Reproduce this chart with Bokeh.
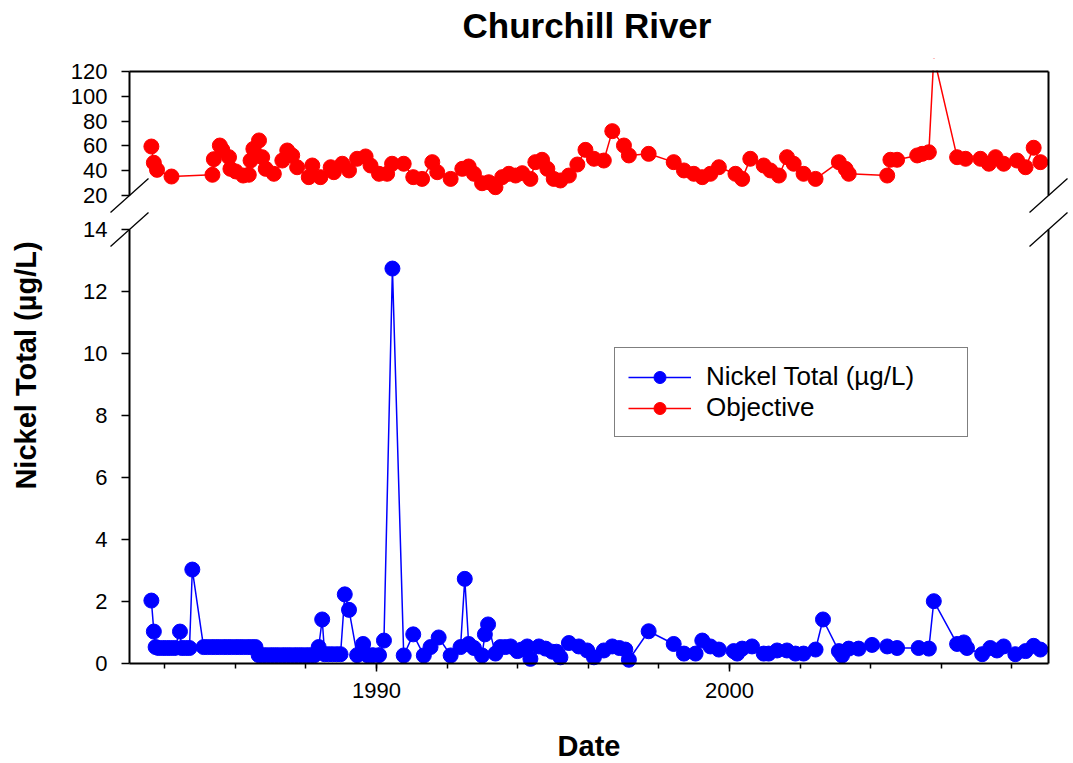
import math
from bokeh.plotting import figure
from bokeh.models import (Range1d, LinearAxis, FixedTicker, Label, Legend, LegendItem,
                          ColumnDataSource, Title, CDSView, BooleanFilter)
from bokeh.embed import file_html
from bokeh.resources import INLINE

# ---------------- data ----------------
nickel_dates = [
    1983.62, 1983.69, 1983.74, 1983.82, 1983.94, 1984.05, 1984.16, 1984.28, 1984.43, 1984.48,
    1984.59, 1984.70, 1984.78,
    1985.10, 1985.21, 1985.33, 1985.44, 1985.55, 1985.67, 1985.78, 1985.89, 1986.01, 1986.12,
    1986.23, 1986.35, 1986.46, 1986.57,
    1986.66, 1986.77, 1986.88, 1987.00, 1987.11, 1987.22, 1987.34, 1987.45, 1987.56, 1987.68,
    1987.79, 1987.90, 1988.02, 1988.13, 1988.24,
    1988.36, 1988.46, 1988.53, 1988.64, 1988.75, 1988.87, 1988.98, 1989.10, 1989.22, 1989.45,
    1989.62, 1989.74, 1989.89, 1990.07, 1990.21, 1990.45, 1990.77, 1991.04, 1991.34, 1991.53,
    1991.76, 1992.10, 1992.38, 1992.50, 1992.61, 1992.76, 1992.99, 1993.07, 1993.16, 1993.37,
    1993.51, 1993.65, 1993.80, 1993.99, 1994.11, 1994.27, 1994.36, 1994.60, 1994.79, 1994.98,
    1995.10, 1995.21, 1995.45, 1995.73, 1995.97, 1996.16, 1996.44, 1996.68, 1996.88, 1997.05,
    1997.15, 1997.71, 1998.42, 1998.71, 1999.04, 1999.23, 1999.46, 1999.70, 2000.12, 2000.22,
    2000.36, 2000.64, 2000.97, 2001.11, 2001.35, 2001.63, 2001.87, 2002.10, 2002.44, 2002.65,
    2003.10, 2003.19, 2003.38, 2003.66, 2004.04, 2004.47, 2004.75, 2005.36, 2005.65, 2005.79,
    2006.45, 2006.64, 2006.73, 2007.16, 2007.39, 2007.58, 2007.77, 2008.10, 2008.39, 2008.62,
    2008.81,
]
nickel_values = [
    2.03, 1.03, 0.53, 0.50, 0.50, 0.50, 0.50, 0.50, 1.03, 0.50,
    0.50, 0.50, 3.03,
    0.53, 0.53, 0.53, 0.53, 0.53, 0.53, 0.53, 0.53, 0.53, 0.53,
    0.53, 0.53, 0.53, 0.53,
    0.27, 0.27, 0.27, 0.27, 0.27, 0.27, 0.27, 0.27, 0.27, 0.27,
    0.27, 0.27, 0.27, 0.27, 0.27,
    0.53, 1.42, 0.30, 0.30, 0.30, 0.30, 0.30, 2.23, 1.73, 0.27,
    0.63, 0.27, 0.27, 0.27, 0.74, 12.74, 0.26, 0.94, 0.26, 0.53,
    0.84, 0.26, 0.53, 2.73, 0.63, 0.50, 0.26, 0.94, 1.26, 0.32,
    0.53, 0.53, 0.55, 0.40, 0.45, 0.55, 0.15, 0.55, 0.48, 0.38,
    0.38, 0.20, 0.66, 0.55, 0.42, 0.20, 0.42, 0.55, 0.50, 0.45,
    0.12, 1.04, 0.63, 0.32, 0.32, 0.74, 0.55, 0.45, 0.40, 0.32,
    0.48, 0.55, 0.32, 0.32, 0.42, 0.42, 0.32, 0.32, 0.45, 1.42,
    0.40, 0.26, 0.48, 0.48, 0.60, 0.55, 0.50, 0.50, 0.48, 2.01,
    0.63, 0.68, 0.50, 0.30, 0.50, 0.42, 0.55, 0.30, 0.40, 0.57,
    0.45,
]

objective_dates = [
    1983.62, 1983.69, 1983.78, 1984.19, 1985.35, 1985.39, 1985.56, 1985.63, 1985.82, 1985.86,
    1986.01, 1986.22, 1986.38, 1986.43, 1986.51, 1986.67, 1986.76, 1986.86, 1987.09, 1987.33,
    1987.47, 1987.61, 1987.75, 1988.08, 1988.18, 1988.41, 1988.70, 1988.79, 1989.03, 1989.22,
    1989.45, 1989.69, 1989.83, 1990.07, 1990.30, 1990.44, 1990.77, 1991.04, 1991.29, 1991.58,
    1991.72, 1992.10, 1992.43, 1992.61, 1992.76, 1992.99, 1993.18, 1993.37, 1993.56, 1993.75,
    1993.94, 1994.13, 1994.36, 1994.50, 1994.69, 1994.84, 1995.02, 1995.21, 1995.45, 1995.69,
    1995.92, 1996.16, 1996.44, 1996.68, 1997.01, 1997.15, 1997.71, 1998.42, 1998.71, 1998.99,
    1999.23, 1999.46, 1999.70, 2000.17, 2000.36, 2000.59, 2000.97, 2001.16, 2001.40, 2001.63,
    2001.82, 2002.10, 2002.44, 2003.10, 2003.29, 2003.38, 2004.47, 2004.56, 2004.75, 2005.32,
    2005.46, 2005.65, 2005.79, 2006.45, 2006.69, 2007.11, 2007.35, 2007.54, 2007.77, 2008.15,
    2008.39, 2008.62, 2008.81,
]
objective_values = [
    59.5, 46.4, 40.7, 35.3, 36.7, 49.3, 60.3, 56.8, 50.9, 41.5,
    39.4, 36.1, 36.7, 48.2, 57.6, 64.4, 50.9, 41.5, 37.5, 48.2,
    56.3, 52.3, 42.8, 34.8, 44.2, 34.8, 42.8, 38.8, 45.6, 40.2,
    49.6, 51.5, 44.2, 37.5, 37.5, 45.6, 45.6, 34.8, 33.4, 46.9,
    38.8, 33.4, 41.5, 43.4, 37.5, 29.9, 30.7, 26.7, 34.8, 37.5,
    36.1, 38.0, 33.4, 46.9, 48.8, 41.5, 33.4, 32.1, 36.1, 45.0,
    56.8, 49.6, 48.2, 71.9, 60.3, 52.3, 53.6, 46.9, 40.2, 37.5,
    34.8, 37.5, 42.8, 37.5, 33.4, 49.6, 44.2, 40.2, 36.1, 50.9,
    45.6, 37.5, 33.4, 46.9, 41.5, 37.5, 36.1, 48.8, 48.8, 52.3,
    53.6, 54.9, 132.0, 50.9, 49.6, 49.6, 45.6, 50.9, 45.6, 48.2,
    42.8, 58.5, 46.9,
]

top_y_ticks = [20, 40, 60, 80, 100, 120]
bottom_y_ticks = [0, 2, 4, 6, 8, 10, 12, 14]
x_major_ticks = [1990, 2000]
x_minor_ticks = [1984, 1986, 1988, 1990, 1992, 1994, 1996, 1998, 2000, 2002, 2004, 2006, 2008]

title_text = "Churchill River"
x_label = "Date"
y_label = "Nickel Total (µg/L)"
series_labels = ["Nickel Total (µg/L)", "Objective"]

# ---------------- layout (screen pixels) ----------------
FONT = "Liberation Sans"
WC, HC = 1070, 763            # canvas
FRAME_TOP = 58                # frame starts under the title panel
X0, X1 = 1983.0, 2009.04      # visible date axis extent
AX_L, AX_R = 129, 1048        # screen x of the two y axes
TOP_Y = (20, 120)
TOP_T, TOP_B = 71, 195        # screen y of the top panel
BOT_Y = (0, 14)
BOT_T, BOT_B = 229, 663       # screen y of the bottom panel

px_x = (AX_R - AX_L) / (X1 - X0)
px_t = (TOP_B - TOP_T) / (TOP_Y[1] - TOP_Y[0])
px_b = (BOT_B - BOT_T) / (BOT_Y[1] - BOT_Y[0])

x_range = Range1d(X0 - AX_L / px_x, X1 + (WC - AX_R) / px_x)
y_bottom = Range1d(BOT_Y[0] - (HC - BOT_B) / px_b, BOT_Y[1] + (BOT_T - FRAME_TOP) / px_b)
y_top = Range1d(TOP_Y[0] - (HC - TOP_B) / px_t, TOP_Y[1] + (TOP_T - FRAME_TOP) / px_t)

def sx_to_x(px):
    return X0 + (px - AX_L) / px_x

def sy_to_ybot(py):
    return (BOT_B - py) / px_b

p = figure(width=WC, height=HC, x_range=x_range, y_range=y_bottom,
           output_backend="svg", toolbar_location=None,
           x_axis_type=None, y_axis_type=None,
           min_border_left=0, min_border_right=0, min_border_bottom=0,
           min_border_top=FRAME_TOP)
p.extra_y_ranges = {"top": y_top}
p.outline_line_color = None
p.xgrid.visible = False
p.ygrid.visible = False
p.background_fill_color = "white"
p.border_fill_color = "white"

def style_axis(ax):
    ax.axis_line_color = "black"
    ax.axis_line_width = 2
    ax.major_tick_line_color = "black"
    ax.major_tick_line_width = 1.5
    ax.minor_tick_line_color = "black"
    ax.minor_tick_line_width = 1.5
    ax.major_tick_in = 0
    ax.major_tick_out = 8
    ax.minor_tick_in = 0
    ax.minor_tick_out = 5
    ax.major_label_text_font = FONT
    ax.major_label_text_font_size = "22px"
    ax.major_label_text_color = "black"

# invisible spacer next to the frame, then the title above it
spacer = LinearAxis(ticker=FixedTicker(ticks=[X0]), bounds=(X0, X1))
spacer.axis_line_color = None
spacer.major_tick_line_color = None
spacer.minor_tick_line_color = None
spacer.major_label_text_color = None
spacer.major_tick_out = 11
spacer.minor_tick_out = 0
p.add_layout(spacer, "above")

title = Title(text=title_text, align="left", offset=462, standoff=6,
              text_font=FONT, text_font_size="35px", text_font_style="bold",
              text_color="black")
p.add_layout(title, "above")

# objective data (markers beyond the axis maximum fall outside the panel)
obj_src = ColumnDataSource(dict(x=objective_dates, y=objective_values))
in_panel = CDSView(filter=BooleanFilter([v <= TOP_Y[1] for v in objective_values]))
r_obj_line = p.line("x", "y", source=obj_src, y_range_name="top",
                    line_color="#ff0000", line_width=1.5)
r_obj_pts = p.scatter("x", "y", source=obj_src, view=in_panel, y_range_name="top", size=15,
                      fill_color="#ff0000", line_color="#ff0000")

# nickel data
ni_src = ColumnDataSource(dict(x=nickel_dates, y=nickel_values))
r_ni_line = p.line("x", "y", source=ni_src, line_color="#0000ff", line_width=1.5)
r_ni_pts = p.scatter("x", "y", source=ni_src, size=15, fill_color="#0000ff",
                     line_color="#0000ff")

# the part of the upper panel above its maximum is masked (values clipped at the border)
p.quad(left=[X0 - 1.0 / px_x], right=[X1 + 1.0 / px_x],
       bottom=[TOP_Y[1] + 1.0 / px_t], top=[TOP_Y[1] + (TOP_T - FRAME_TOP + 40) / px_t],
       y_range_name="top", fill_color="white", fill_alpha=1.0, line_color=None)

# border line on top of the upper panel
top_line = LinearAxis(y_range_name="top", fixed_location=TOP_Y[1], bounds=(X0, X1),
                      ticker=FixedTicker(ticks=[]))
style_axis(top_line)
top_line.major_tick_out = 0
top_line.minor_tick_out = 0
p.add_layout(top_line, "above")

# left axes
ax_top = LinearAxis(y_range_name="top", fixed_location=X0, bounds=TOP_Y,
                    ticker=FixedTicker(ticks=top_y_ticks), major_label_standoff=14)
style_axis(ax_top)
p.add_layout(ax_top, "left")

ax_bot = LinearAxis(fixed_location=X0, bounds=BOT_Y,
                    ticker=FixedTicker(ticks=bottom_y_ticks), major_label_standoff=14)
style_axis(ax_bot)
p.add_layout(ax_bot, "left")

# right border lines
for rng_name, bnds in (("top", TOP_Y), ("default", BOT_Y)):
    ax_r = LinearAxis(y_range_name=rng_name, fixed_location=X1, bounds=bnds,
                      ticker=FixedTicker(ticks=[]))
    style_axis(ax_r)
    ax_r.major_tick_out = 0
    ax_r.minor_tick_out = 0
    p.add_layout(ax_r, "right")

# date axis
ax_x = LinearAxis(fixed_location=0, bounds=(X0, X1),
                  ticker=FixedTicker(ticks=x_major_ticks, minor_ticks=x_minor_ticks),
                  major_label_standoff=11)
style_axis(ax_x)
p.add_layout(ax_x, "below")

# axis break marks
dx = 19 / px_x
brk = ColumnDataSource(dict(x0=[X0 - dx, X1 - dx], x1=[X0 + dx, X1 + dx],
                            y0=[TOP_Y[0] - 17 / px_t] * 2, y1=[TOP_Y[0] + 17 / px_t] * 2))
p.segment("x0", "y0", "x1", "y1", source=brk, y_range_name="top",
          line_color="black", line_width=1.3)
brk2 = ColumnDataSource(dict(x0=[X0 - dx, X1 - dx], x1=[X0 + dx, X1 + dx],
                             y0=[BOT_Y[1] - 17 / px_b] * 2, y1=[BOT_Y[1] + 17 / px_b] * 2))
p.segment("x0", "y0", "x1", "y1", source=brk2, line_color="black", line_width=1.3)

# axis titles
p.add_layout(Label(x=(X0 + X1) / 2, y=sy_to_ybot(745), text=x_label,
                   text_align="center", text_baseline="middle", text_font=FONT,
                   text_font_size="29px", text_font_style="bold", text_color="black"))
p.add_layout(Label(x=sx_to_x(25), y=sy_to_ybot(365), text=y_label, angle=math.pi / 2,
                   text_align="center", text_baseline="middle", text_font=FONT,
                   text_font_size="29px", text_font_style="bold", text_color="black"))

# legend
legend = Legend(items=[LegendItem(label=series_labels[0], renderers=[r_ni_line, r_ni_pts]),
                       LegendItem(label=series_labels[1], renderers=[r_obj_line, r_obj_pts])],
                location=(614, HC - 437))
legend.border_line_color = "black"
legend.border_line_width = 1
legend.background_fill_color = "white"
legend.background_fill_alpha = 1
legend.padding = 13
legend.spacing = 0
legend.margin = 0
legend.glyph_width = 63
legend.glyph_height = 30
legend.label_height = 30
legend.label_standoff = 15
legend.label_width = 248
legend.label_text_font = FONT
legend.label_text_font_size = "26px"
legend.label_text_color = "black"
legend.label_text_baseline = "middle"
p.add_layout(legend)

open("out.html", "w").write(file_html(p, INLINE))
